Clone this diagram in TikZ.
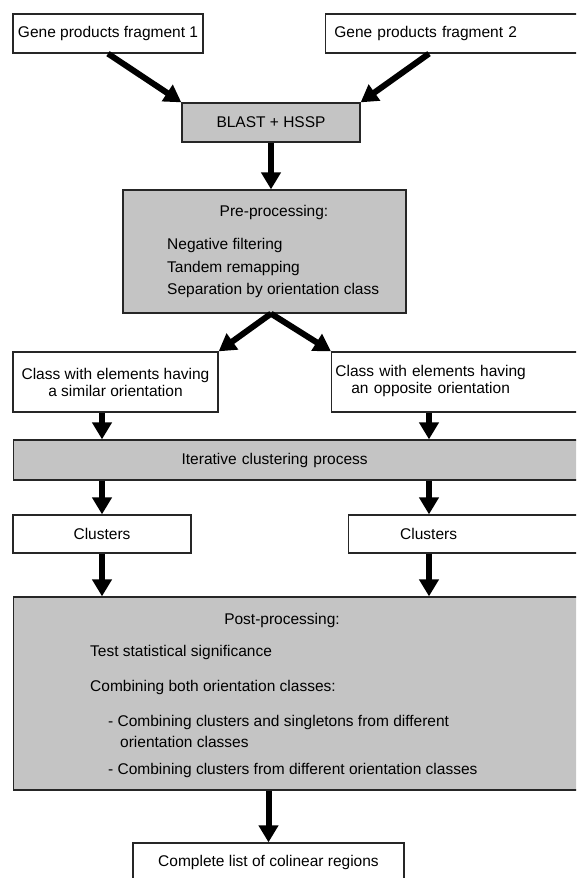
\documentclass[tikz,border=0pt]{standalone}
\usepackage{fontspec}
\setmainfont{Liberation Sans}
\usetikzlibrary{arrows.meta}
\definecolor{boxgray}{RGB}{196,196,196}
\newcommand{\padtext}[2]{\makebox[#1]{#2}}

\begin{document}
\begin{tikzpicture}[x=1pt, y=-1pt,
    font=\fontsize{15.5}{17}\selectfont,
    box/.style={draw=black!85, line width=1.3pt, fill=white, inner sep=0pt, align=center},
    graybox/.style={box, fill=boxgray},
    cutbox/.style={anchor=west, text width=270pt, align=left},
    txt/.style={inner sep=0pt, anchor=west},
    arr/.style={line width=6pt, -{Triangle[length=17pt,width=19pt]}}]
    \useasboundingbox (0,0) rectangle (576,878);
    \clip (0,0) rectangle (576,878);
    \coordinate (colL) at (102,0);
    \coordinate (colR) at (429,0);

    % inputs and search
    \node[box, minimum width=190pt, minimum height=39pt] (frag1) at (108,33.5) {Gene products fragment 1};
    \node[box, cutbox, minimum height=39pt] (frag2) at (325,33.5) {\padtext{200pt}{Gene products fragment 2}};
    \node[graybox, minimum width=178pt, minimum height=39pt] (blast) at (271,122.5) {BLAST + HSSP};

    % pre-processing
    \node[graybox, minimum width=283pt, minimum height=123pt] (pre) at (264.5,251.5) {};
    \node (pretitle) at (274,212) {Pre-processing:};
    \foreach \n/\y/\t in {1/245/Negative filtering, 2/268/Tandem remapping, 3/290/Separation by orientation class}
        {\node[txt] (pre\n) at (167,\y) {\t};}

    % orientation classes
    \node[box, minimum width=205pt, minimum height=60pt] (sim) at (115.5,382) {Class with elements having\\a similar orientation};
    \node[box, cutbox, minimum height=60pt] (opp) at (331,382) {\padtext{198pt}{\begin{tabular}{@{}c@{}}Class with elements having\\an opposite orientation\end{tabular}}};

    \node[graybox, cutbox, minimum height=40pt, text width=600pt] (iter) at (13,460) {\padtext{522pt}{Iterative clustering process}};
    \node[box, minimum width=178pt, minimum height=38pt] (clusL) at (102,534) {Clusters};
    \node[box, cutbox, minimum height=38pt] (clusR) at (348,534) {\padtext{160pt}{Clusters}};

    % post-processing
    \node[graybox, cutbox, minimum height=193pt, text width=600pt] (post) at (13,693.5) {};
    \node (posttitle) at (282,620) {Post-processing:};
    \foreach \n/\x/\y/\t in {1/90/652/Test statistical significance,
                             2/90/687/Combining both orientation classes:,
                             3/108/722/- Combining clusters and singletons from different,
                             4/120/742/orientation classes,
                             5/108/770/- Combining clusters from different orientation classes}
        {\node[txt] (post\n) at (\x,\y) {\t};}

    \node[box, minimum width=271pt, minimum height=39pt] (final) at (268.5,862.5) {Complete list of colinear regions};

    % arrows
    \draw[arr] (frag1.south) -- (blast.north west);
    \draw[arr] (colR |- frag2.south) -- (blast.north east);
    \draw[arr] (blast.south) -- (blast.south |- pre.north);
    \draw[arr] (blast.south |- pre.south) -- (sim.north east);
    \draw[arr] (blast.south |- pre.south) -- (opp.north west);
    \draw[arr] (colL |- sim.south) -- (colL |- iter.north);
    \draw[arr] (colR |- opp.south) -- (colR |- iter.north);
    \draw[arr] (colL |- iter.south) -- (clusL.north);
    \draw[arr] (colR |- iter.south) -- (colR |- clusR.north);
    \draw[arr] (colL |- clusL.south) -- (colL |- post.north);
    \draw[arr] (colR |- clusR.south) -- (colR |- post.north);
    \draw[arr] (final.north |- post.south) -- (final.north);
\end{tikzpicture}
\end{document}
